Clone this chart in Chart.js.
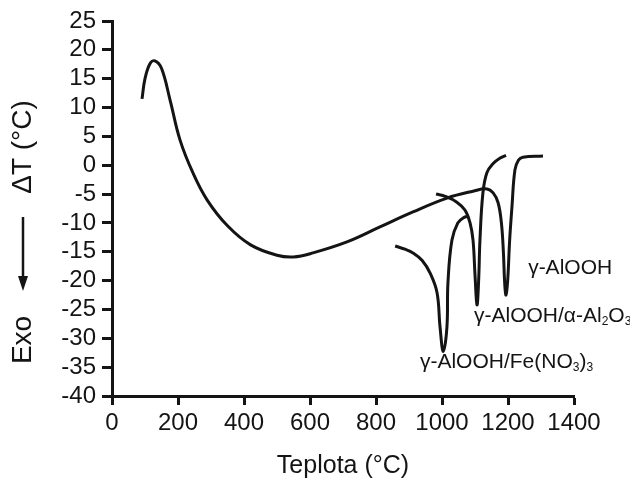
<!DOCTYPE html>
<html>
<head>
<meta charset="utf-8">
<script src="https://cdn.jsdelivr.net/npm/chart.js@4"></script>
<style>
  html, body { margin: 0; padding: 0; background: #fff; }
  #wrap { width: 630px; height: 479px; }
</style>
</head>
<body>
<div id="wrap"><canvas id="dtaChart"></canvas></div>
<script>
// DTA curves, values
const xTicks = [0, 200, 400, 600, 800, 1000, 1200, 1400];
const yTicks = [25, 20, 15, 10, 5, 0, -5, -10, -15, -20, -25, -30, -35, -40];

// γ-AlOOH
const alooh = [
    [91, 11.5], [100, 15], [115, 17.6], [130, 18.1], [150, 16.8], [176, 11.3],
    [206, 4.4], [245, -1.3], [288, -6], [350, -10.5], [420, -13.8], [500, -15.6],
    [550, -15.9], [609, -15.2], [712, -13.3], [812, -10.7], [912, -8.1],
    [1015, -5.7], [1094, -4.5], [1136, -4.1], [1155, -4.8], [1170, -6.5],
    [1180, -10], [1186, -15], [1190, -20.5], [1194, -22.5], [1199, -20],
    [1205, -13], [1212, -7.2], [1221, -0.8], [1232, 0.9], [1245, 1.4], [1306, 1.6]
];

// γ-AlOOH/α-Al2O3
const aloohAlumina = [
    [982, -5], [1010, -5.4], [1045, -6.4], [1070, -7.8], [1085, -10], [1094, -13],
    [1100, -19], [1106, -24.2], [1111, -20], [1115, -13], [1124, -4.8],
    [1136, -1.3], [1155, 0.3], [1175, 1.2], [1194, 1.7]
];

// γ-AlOOH/Fe(NO3)3
const aloohIron = [
    [858, -14], [890, -14.6], [912, -15.2], [940, -16.5], [964, -18.7],
    [985, -22.1], [994, -28], [1004, -32.3], [1015, -28], [1018, -20.4],
    [1030, -13], [1048, -10], [1065, -9.1], [1082, -8.8]
];

// curve labels: [x, y, parts]
const curveLabels = [
    [1261, -17.8, [['γ-AlOOH', false]]],
    [1097, -26.1, [['γ-AlOOH/α-Al', false], ['2', true], ['O', false], ['3', true]]],
    [933, -34.1, [['γ-AlOOH/Fe(NO', false], ['3', true], [')', false], ['3', true]]]
];

const FONT = "'Liberation Sans', Arial, sans-serif";

function toPoints(arr) {
    return arr.map(p => ({ x: p[0], y: p[1] }));
}

function lineSet(arr) {
    return {
        data: toPoints(arr),
        showLine: true,
        borderColor: '#141414',
        borderWidth: 3,
        pointRadius: 0,
        tension: 0.4,
        fill: false
    };
}

const textPlugin = {
    id: 'textPlugin',
    afterDraw(chart) {
        const ctx = chart.ctx;
        const xs = chart.scales.x, ys = chart.scales.y;
        ctx.save();
        ctx.fillStyle = '#141414';
        ctx.textBaseline = 'middle';
        curveLabels.forEach(l => {
            let px = xs.getPixelForValue(l[0]);
            const py = ys.getPixelForValue(l[1]);
            l[2].forEach(part => {
                ctx.font = (part[1] ? '12px ' : '21px ') + FONT;
                ctx.fillText(part[0], px, part[1] ? py + 6 : py);
                px += ctx.measureText(part[0]).width;
            });
        });

        // y axis title: Exo <-- ΔT (°C), rotated
        ctx.translate(23, 0);
        ctx.rotate(-Math.PI / 2);
        ctx.font = '28px ' + FONT;
        ctx.textAlign = 'center';
        ctx.fillText('ΔT (°C)', -147, 0);
        ctx.fillText('Exo', -340, 0);
        ctx.strokeStyle = '#141414';
        ctx.lineWidth = 2.5;
        ctx.beginPath();
        ctx.moveTo(-217, 0);
        ctx.lineTo(-278, 0);
        ctx.stroke();
        ctx.beginPath();
        ctx.moveTo(-291, 0);
        ctx.lineTo(-276, -5);
        ctx.lineTo(-276, 5);
        ctx.closePath();
        ctx.fill();
        ctx.restore();
    }
};

const ctx = document.getElementById('dtaChart').getContext('2d');
new Chart(ctx, {
    type: 'scatter',
    data: {
        datasets: [lineSet(alooh), lineSet(aloohAlumina), lineSet(aloohIron)]
    },
    options: {
        responsive: true,
        maintainAspectRatio: false,
        animation: false,
        layout: { padding: { top: 21, right: 56, left: 0, bottom: 0 } },
        plugins: { legend: { display: false }, tooltip: { enabled: false } },
        scales: {
            x: {
                type: 'linear',
                min: 0,
                max: 1400,
                afterBuildTicks: axis => { axis.ticks = xTicks.map(v => ({ value: v })); },
                afterFit: axis => { axis.height = 83; },
                border: { color: '#141414', width: 3 },
                grid: { drawOnChartArea: false, tickLength: 9, tickWidth: 3, tickColor: '#141414' },
                ticks: {
                    color: '#141414',
                    font: { family: FONT, size: 24 },
                    padding: 4,
                    maxRotation: 0,
                    autoSkip: false,
                    callback: v => String(v)
                },
                title: {
                    display: true,
                    text: 'Teplota (°C)',
                    color: '#141414',
                    font: { family: FONT, size: 25, lineHeight: 1 },
                    padding: { top: 0, bottom: 0 }
                }
            },
            y: {
                type: 'linear',
                min: -40,
                max: 25,
                afterBuildTicks: axis => { axis.ticks = yTicks.map(v => ({ value: v })); },
                afterFit: axis => { axis.width = 112; },
                border: { color: '#141414', width: 3 },
                grid: { drawOnChartArea: false, tickLength: 10, tickWidth: 3, tickColor: '#141414' },
                ticks: {
                    color: '#141414',
                    font: { family: FONT, size: 24 },
                    padding: 6,
                    autoSkip: false,
                    callback: v => String(v)
                }
            }
        }
    },
    plugins: [textPlugin]
});
</script>
</body>
</html>
